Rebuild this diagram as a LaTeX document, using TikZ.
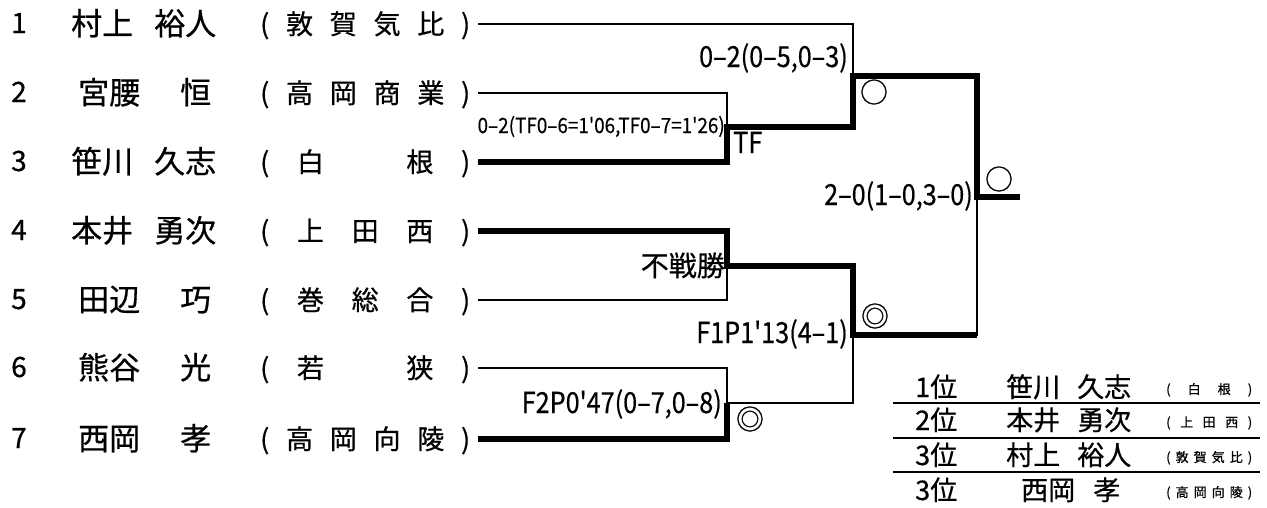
\documentclass[tikz,border=0pt]{standalone}
\usepackage{fontspec}
\setmainfont{Noto Sans CJK JP}[FakeBold=0.6]
\newfontfamily\narrowfont[FakeStretch=0.87,FakeBold=0.5]{Noto Sans CJK JP}
\newfontfamily\smallnarrowfont[FakeStretch=0.90,FakeBold=0.3]{Noto Sans CJK JP}
\newcommand{\pnamewide}[2]{\makebox[145pt]{#1\hfill#2}}
\newcommand{\pnamenarrow}[2]{\makebox[145pt]{\hspace{7pt}#1\hfill#2\hspace{5pt}}}
\newcommand{\schoolbox}[1]{\makebox[210pt]{#1}}
\newcommand{\smallschool}[1]{\makebox[86pt]{#1}}
\tikzset{
  lose/.style={line width=1.6pt},
  win/.style={line width=5.5pt},
  seedno/.style={font=\fontsize{28}{30}\selectfont,inner sep=0pt},
  pname/.style={font=\fontsize{31}{33}\selectfont,inner sep=0pt},
  school/.style={font=\fontsize{27}{29}\selectfont,inner sep=0pt},
  score/.style={font=\narrowfont\fontsize{29}{31}\selectfont,inner sep=0pt},
  scoresmall/.style={font=\smallnarrowfont\fontsize{21}{23}\selectfont,inner sep=0pt},
  scorekanji/.style={font=\fontsize{28}{30}\selectfont,inner sep=0pt},
  winmark/.style={font=\fontsize{28}{30}\selectfont,inner sep=0pt},
  rankfont/.style={font=\fontsize{27}{29}\selectfont,inner sep=0pt},
  ranksmall/.style={font=\fontsize{13}{14}\selectfont,inner sep=0pt},
  rule/.style={line width=2pt}
}
\begin{document}
\begin{tikzpicture}[x=1pt,y=-1pt]
  \useasboundingbox (0,0) rectangle (1267,507);
  % players
  \foreach \i/\y/\nm/\sc in {
      1/24/{\pnamewide{村上}{裕人}}/{(\hfill 敦\hfill 賀\hfill 気\hfill 比\hfill )},
      2/93/{\pnamenarrow{宮腰}{恒}}/{(\hfill 高\hfill 岡\hfill 商\hfill 業\hfill )},
      3/162/{\pnamewide{笹川}{久志}}/{(\hfill 白\hfill\hspace{27pt}\hfill 根\hfill )},
      4/231/{\pnamewide{本井}{勇次}}/{(\hfill 上\hfill 田\hfill 西\hfill )},
      5/300/{\pnamenarrow{田辺}{巧}}/{(\hfill 巻\hfill 総\hfill 合\hfill )},
      6/368/{\pnamenarrow{熊谷}{光}}/{(\hfill 若\hfill\hspace{27pt}\hfill 狭\hfill )},
      7/439/{\pnamenarrow{西岡}{孝}}/{(\hfill 高\hfill 岡\hfill 向\hfill 陵\hfill )}}{
    \node[seedno,anchor=base west] (num\i) at (11,\y+9) {\i};
    \node[pname,anchor=base west] (name\i) at (71,\y+11) {\nm};
    \node[school,anchor=base west] (school\i) at (260,\y+10) {\schoolbox{\sc}};
    \coordinate (p\i) at (478,\y);
  }
  % match points
  \coordinate (qa) at (727,127);
  \coordinate (qb) at (727,266);
  \coordinate (qc) at (727,403);
  \coordinate (sd) at (853,76);
  \coordinate (se) at (853,335);
  \coordinate (fin) at (977,197);
  \coordinate (champ) at (1020,197);
  % losing lines
  \draw[lose] (p1) -| (sd);
  \draw[lose] (p2) -| (qa);
  \draw[lose] (p5) -| (qb);
  \draw[lose] (p6) -| (qc);
  \draw[lose] (qc) -| (se);
  \draw[lose] (se) -| (fin);
  % winning lines
  \draw[win] (p3) -| (qa) -| (sd) -| (fin) -- (champ);
  \draw[win] (p4) -| (qb) -| (se) -- (se -| fin);
  \draw[win] (p7) -| (qc);
  % scores
  \node[scoresmall,anchor=base east] (sca) at (725,133) {0–2(TF0–6=1'06,TF0–7=1'26)};
  \node[score,anchor=base west] (tf) at (733,153) {TF};
  \node[scorekanji,anchor=base east] (scb) at (725,276) {不戦勝};
  \node[score,anchor=base east] (scc) at (722,413) {F2P0'47(0–7,0–8)};
  \node[score,anchor=base east] (scd) at (848,67) {0–2(0–5,0–3)};
  \node[score,anchor=base east] (sce) at (848,343) {F1P1'13(4–1)};
  \node[score,anchor=base east] (scf) at (973,205) {2–0(1–0,3–0)};
  \node[winmark] (ma) at (874,92) {○};
  \node[winmark] (mb) at (999,179) {○};
  \node[winmark] (mc) at (875,316) {◎};
  \node[winmark] (md) at (750,419) {◎};
  % ranking
  \foreach \r/\y/\rk/\nm/\sc in {
      1/397/1位/{\makebox[125pt]{笹川\hfill 久志}}/{(\hfill 白\hfill 根\hfill )},
      2/430/2位/{\makebox[125pt]{本井\hfill 勇次}}/{(\hfill 上\hfill 田\hfill 西\hfill )},
      3/465/3位/{\makebox[125pt]{村上\hfill 裕人}}/{(\hfill 敦\hfill 賀\hfill 気\hfill 比\hfill )},
      4/500/3位/{\hspace{15pt}\makebox[99pt]{西岡\hfill 孝}}/{(\hfill 高\hfill 岡\hfill 向\hfill 陵\hfill )}}{
    \node[rankfont,anchor=base west] (rank\r) at (915,\y) {\rk};
    \node[rankfont,anchor=base west] (rname\r) at (1006,\y) {\nm};
    \node[ranksmall,anchor=base west] (rschool\r) at (1166,\y-3) {\smallschool{\sc}};
  }
  \foreach \k/\y in {1/403,2/438,3/472}{
    \coordinate (tl\k) at (893,\y);
    \coordinate (tr\k) at (1260,\y);
    \draw[rule] (tl\k) -- (tr\k);
  }
\end{tikzpicture}
\end{document}
